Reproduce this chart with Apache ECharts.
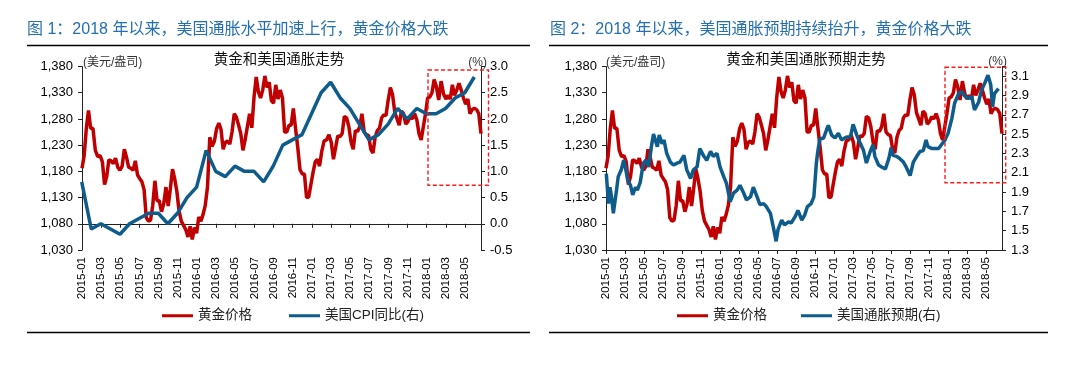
<!DOCTYPE html>
<html><head><meta charset="utf-8">
<script src="https://cdn.jsdelivr.net/npm/echarts@6/dist/echarts.min.js"></script>
<style>html,body{margin:0;padding:0;background:#fff}#c{width:1083px;height:365px}</style>
</head><body><div id="c"></div>
<script>
// ---------------- data ----------------
const xTickLabels = ['2015-01','2015-03','2015-05','2015-07','2015-09','2015-11',
  '2016-01','2016-03','2016-05','2016-07','2016-09','2016-11',
  '2017-01','2017-03','2017-05','2017-07','2017-09','2017-11',
  '2018-01','2018-03','2018-05'];

// gold price (USD/oz), weekly readings, first on 2015-01-01, one every 7 days
const goldStart = '2015-01-01';
const goldStepDays = 7;
const goldPrice = [
  1186,1210,1262,1296,1262,1262,1220,1208,1210,1198,1155,1170,1202,1200,1195,1205,1188,1182,1190,1222,1207,1188,1186,1182,1200,1173,1166,1160,1145,1092,1085,1087,1115,1162,1124,1124,1103,1118,1150,1114,1147,1184,1166,1142,1105,1085,1077,1069,1055,1075,1050,1073,1062,
  1093,1085,1098,1115,1150,1245,1228,1238,1262,1272,1260,1222,1235,1238,1232,1255,1290,1283,1268,1252,1220,1240,1265,1290,1263,1322,1360,1332,1320,1335,1362,1340,1350,1315,1310,1345,1318,1335,1320,1255,1255,1268,1268,1300,1262,1225,1183,1175,1175,1130,1131,1155,
  1178,1198,1203,1190,1218,1238,1240,1250,1235,1203,1225,1248,1246,1252,1285,1282,1265,1236,1222,1258,1256,1265,1290,1255,1250,1248,1222,1215,1245,1258,1262,1282,1288,1286,1315,1340,1326,1292,1280,1268,1295,1290,1270,1275,1284,1280,1290,1278,1252,1240,1265,1290,
  1320,1322,1330,1355,1342,1316,1352,1328,1318,1325,1318,1345,1325,1335,1348,1335,1320,1308,1318,1290,1298,1300,1298,1290,1252
];

// US CPI YoY (%), monthly, plotted at month end
const cpiMonths = ['2014-12',
  '2015-01','2015-02','2015-03','2015-04','2015-05','2015-06','2015-07','2015-08','2015-09','2015-10','2015-11','2015-12',
  '2016-01','2016-02','2016-03','2016-04','2016-05','2016-06','2016-07','2016-08','2016-09','2016-10','2016-11','2016-12',
  '2017-01','2017-02','2017-03','2017-04','2017-05','2017-06','2017-07','2017-08','2017-09','2017-10','2017-11','2017-12',
  '2018-01','2018-02','2018-03','2018-04','2018-05'];
const cpiYoY = [0.8,
  -0.1,0.0,-0.1,-0.2,0.0,0.1,0.2,0.2,0.0,0.2,0.5,0.7,
  1.4,1.0,0.9,1.1,1.0,1.0,0.8,1.1,1.5,1.6,1.7,2.1,
  2.5,2.7,2.4,2.2,1.9,1.6,1.7,1.9,2.2,2.0,2.2,2.1,
  2.1,2.2,2.4,2.5,2.8];

// US inflation expectation (%)
const beDates = ['2015-01-02','2015-01-09','2015-01-14','2015-01-19','2015-01-25','2015-02-04','2015-02-09','2015-02-18','2015-02-25','2015-03-02','2015-03-10','2015-03-19','2015-03-26','2015-04-04','2015-04-10','2015-04-19','2015-04-29','2015-05-07','2015-05-16','2015-05-25','2015-06-01','2015-06-13','2015-06-19','2015-06-28','2015-07-04','2015-07-13','2015-07-25','2015-08-04','2015-08-16','2015-08-25','2015-09-07','2015-09-16','2015-09-28','2015-10-07','2015-10-19','2015-10-28','2015-11-10','2015-11-19','2015-12-01','2015-12-10','2015-12-22',
  '2016-01-01','2016-01-13','2016-01-22','2016-02-03','2016-02-13','2016-02-24','2016-03-04','2016-03-16','2016-03-25','2016-04-07','2016-04-16','2016-04-28','2016-05-07','2016-05-19','2016-05-28','2016-06-10','2016-06-19','2016-06-28','2016-07-04','2016-07-16','2016-07-25','2016-08-07','2016-08-16','2016-08-28','2016-09-07','2016-09-19','2016-09-28','2016-10-07','2016-10-19','2016-10-28','2016-11-05','2016-11-10','2016-11-16','2016-11-28','2016-12-07','2016-12-13','2016-12-24',
  '2017-01-04','2017-01-15','2017-01-25','2017-02-10','2017-02-21','2017-03-01','2017-03-13','2017-03-22','2017-04-04','2017-04-13','2017-04-25','2017-05-04','2017-05-10','2017-05-22','2017-06-01','2017-06-13','2017-06-24','2017-07-01','2017-07-07','2017-07-19','2017-07-28','2017-08-10','2017-08-19','2017-09-01','2017-09-11','2017-09-22','2017-10-02','2017-10-13','2017-10-22','2017-10-28','2017-11-10','2017-11-19','2017-12-01','2017-12-10','2017-12-22',
  '2018-01-01','2018-01-13','2018-01-22','2018-02-04','2018-02-12','2018-02-23','2018-03-04','2018-03-16','2018-03-25','2018-04-07','2018-04-16','2018-04-28','2018-05-07','2018-05-16','2018-05-22','2018-05-28','2018-06-10'];
const beValues = [2.09,1.78,1.95,1.85,1.68,1.92,2.06,2.13,2.23,2.16,2.02,1.97,1.87,1.95,1.92,2.00,2.20,2.23,2.16,2.37,2.50,2.37,2.49,2.40,2.44,2.30,2.21,2.18,2.20,2.21,2.28,2.13,2.04,2.13,2.16,2.35,2.27,2.23,2.32,2.27,2.30,
  2.16,2.06,1.99,1.80,1.89,1.92,1.97,1.89,1.82,1.85,1.95,1.85,1.77,1.78,1.75,1.68,1.54,1.39,1.51,1.61,1.56,1.59,1.58,1.64,1.71,1.61,1.66,1.75,1.78,1.85,2.20,2.33,2.45,2.46,2.54,2.59,2.49,
  2.46,2.51,2.44,2.47,2.47,2.60,2.49,2.42,2.33,2.20,2.32,2.39,2.27,2.18,2.16,2.14,2.25,2.36,2.28,2.27,2.25,2.21,2.16,2.07,2.21,2.27,2.32,2.33,2.44,2.37,2.35,2.35,2.35,2.39,2.44,
  2.51,2.66,2.82,2.92,2.94,2.89,2.87,2.89,2.75,2.83,2.95,3.04,3.11,3.01,2.78,2.92,2.97];

// ---------------- helpers ----------------
function monthIndex(y, m, d) { // m 1-based, 0 == 2015-01-01
  const dim = new Date(Date.UTC(y, m, 0)).getUTCDate();
  return (y - 2015) * 12 + (m - 1) + (d - 1) / dim;
}
function parseDate(s) { const p = s.split('-').map(Number); return monthIndex(p[0], p[1], p[2]); }
const g0 = Date.parse(goldStart + 'T00:00:00Z');
const goldPts = goldPrice.map((v, k) => {
  const dt = new Date(g0 + k * goldStepDays * 86400000);
  return [monthIndex(dt.getUTCFullYear(), dt.getUTCMonth() + 1, dt.getUTCDate()), v];
});
const cpiPts = cpiMonths.map((s, i) => {
  const p = s.split('-').map(Number);
  const dim = new Date(Date.UTC(p[0], p[1], 0)).getUTCDate();
  return [monthIndex(p[0], p[1], dim), cpiYoY[i]];
});
const bePts = beDates.map((s, i) => [parseDate(s), beValues[i]]);
const xMax = goldPts[goldPts.length - 1][0];

const FONT = '"Liberation Sans", Arial, "Noto Sans CJK SC", sans-serif';
const RED = '#C00000', BLUE = '#0E5C8C', AX = '#222';

function xAxis(gi) {
  return {
    type: 'value', gridIndex: gi, min: 0, max: xMax, interval: 2,
    axisLine: { show: true, lineStyle: { color: AX, width: 1 } },
    axisTick: { show: true, inside: false, length: 4, lineStyle: { color: AX } },
    splitLine: { show: false },
    axisLabel: {
      rotate: 90, margin: 7, fontSize: 11.5, color: '#000', fontFamily: FONT,
      showMaxLabel: false,
      formatter: v => { const i = Math.round(v / 2); return (Math.abs(v - 2 * i) < 1e-6 && xTickLabels[i]) ? xTickLabels[i] : ''; }
    }
  };
}
function yLeft(gi) {
  return {
    type: 'value', gridIndex: gi, position: 'left', min: 1030, max: 1380, interval: 50,
    axisLine: { show: true, lineStyle: { color: AX, width: 1 } },
    axisTick: { show: true, inside: false, length: 4, lineStyle: { color: AX } },
    splitLine: { show: false },
    axisLabel: { margin: 9, fontSize: 13, color: '#000', fontFamily: FONT,
      formatter: v => String(Math.round(v)).replace(/\B(?=(\d{3})+(?!\d))/g, ',') }
  };
}
function yRight(gi, min, max, step, top) {
  return {
    type: 'value', gridIndex: gi, position: 'right', min: min, max: max, interval: step,
    axisLine: { show: true, lineStyle: { color: AX, width: 1 } },
    axisTick: { show: true, inside: false, length: 4, lineStyle: { color: AX } },
    splitLine: { show: false },
    axisLabel: { margin: 9, fontSize: 13, color: '#000', fontFamily: FONT,
      formatter: v => (v > top + 1e-6) ? '' : v.toFixed(1) }
  };
}
function line(name, xi, yi, data, color) {
  return { name: name, type: 'line', xAxisIndex: xi, yAxisIndex: yi, data: data,
    symbol: 'none', smooth: false, clip: true,
    lineStyle: { color: color, width: 3.5 }, itemStyle: { color: color } };
}
function txt(x, y, s, size, color, align) {
  return { type: 'text', x: x, y: y, style: { text: s, fontSize: size, fill: color, fontFamily: FONT,
    align: align || 'left', verticalAlign: 'middle' } };
}
function hline(x1, x2, y) {
  return { type: 'line', shape: { x1: x1, y1: y, x2: x2, y2: y }, style: { stroke: '#000', lineWidth: 1.3 } };
}
function dashRect(x, y, w, h) {
  return { type: 'rect', shape: { x: x, y: y, width: w, height: h },
    style: { fill: 'none', stroke: '#FF1A1A', lineWidth: 1.4, lineDash: [4, 2.5] }, z: 100 };
}

const chart = echarts.init(document.getElementById('c'), null, { renderer: 'canvas' });
chart.setOption({
  animation: false,
  backgroundColor: '#fff',
  textStyle: { fontFamily: FONT },
  grid: [
    { left: 82, top: 66.5, width: 399, height: 183.5 },
    { left: 606, top: 66.5, width: 396, height: 183.5 }
  ],
  xAxis: [xAxis(0), xAxis(1)],
  yAxis: [yLeft(0), yRight(0, -0.5, 3.0, 0.5, 3.0), yLeft(1), yRight(1, 1.3, 3.2, 0.2, 3.1)],
  legend: [
    { left: 157, top: 304, itemWidth: 31, itemHeight: 3, itemGap: 37, icon: 'rect',
      data: ['黄金价格', '美国CPI同比(右)'],
      textStyle: { fontSize: 13.5, color: '#222', fontFamily: FONT } },
    { left: 672, top: 304, itemWidth: 31, itemHeight: 3, itemGap: 34, icon: 'rect',
      data: ['黄金价格', '美国通胀预期(右)'],
      textStyle: { fontSize: 13.5, color: '#222', fontFamily: FONT } }
  ],
  series: [
    line('黄金价格', 0, 0, goldPts, RED),
    line('美国CPI同比(右)', 0, 1, cpiPts, BLUE),
    line('黄金价格', 1, 2, goldPts, RED),
    line('美国通胀预期(右)', 1, 3, bePts, BLUE)
  ],
  graphic: [
    txt(27, 30, '图 1：2018 年以来，美国通胀水平加速上行，黄金价格大跌', 16, '#2470B0'),
    txt(550, 30, '图 2：2018 年以来，美国通胀预期持续抬升，黄金价格大跌', 16, '#2470B0'),
    hline(27, 530, 45.5), hline(549, 1048, 45.5),
    hline(27, 530, 332.5), hline(549, 1048, 332.5),
    txt(279, 60, '黄金和美国通胀走势', 14.5, '#111', 'center'),
    txt(806, 60, '黄金和美国通胀预期走势', 14.5, '#111', 'center'),
    txt(83, 62.5, '(美元/盎司)', 12, '#333'),
    txt(487, 62.5, '(%)', 12, '#333', 'right'),
    txt(606, 62.5, '(美元/盎司)', 12, '#333'),
    txt(1007, 62, '(%)', 12, '#333', 'right'),
    dashRect(428, 70, 60.5, 115.3),
    dashRect(945, 67.3, 60.7, 115.4)
  ]
});
</script>
</body></html>
